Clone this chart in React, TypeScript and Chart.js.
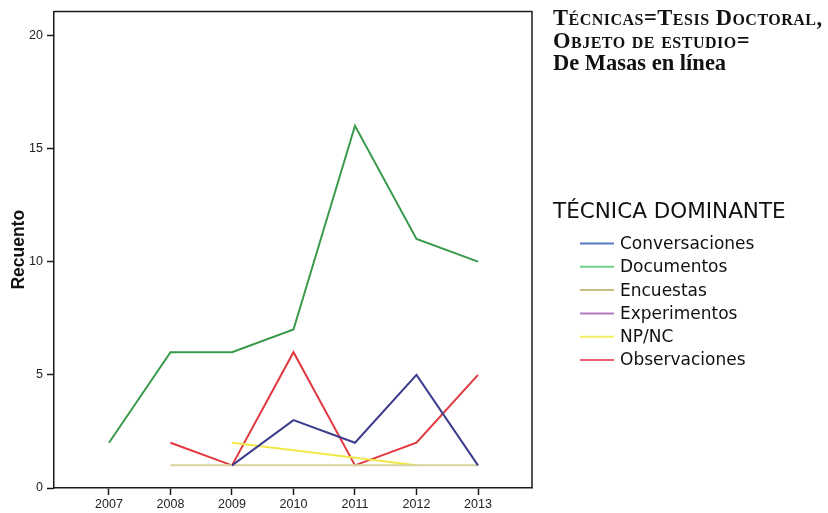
import React, { useEffect, useRef } from "react";
import { Chart, registerables } from "chart.js";

Chart.register(...registerables);

const years = [2007, 2008, 2009, 2010, 2011, 2012, 2013];
const yTicks = [0, 5, 10, 15, 20];

const conversaciones = [null, null, 1, 3, 2, 5, 1];
const documentos = [2, 6, 6, 7, 16, 11, 10];
const encuestas = [null, 1, 1, 1, 1, 1, 1];
const experimentos = [null, null, null, null, null, null, null];
const npnc = [null, null, 2, null, null, 1, null];
const observaciones = [null, 2, 1, 6, 1, 2, 5];

const seriesLabels = ["Conversaciones", "Documentos", "Encuestas", "Experimentos", "NP/NC", "Observaciones"];
const seriesValues = [conversaciones, documentos, encuestas, experimentos, npnc, observaciones];
const lineColors = ["#3d3d8e", "#3a9a4c", "#d9d39c", "#9a5cb0", "#f2e84a", "#e0383e"];
const legendColors = ["#5a78c8", "#6fd08a", "#c8bd80", "#b07ac0", "#f0f060", "#f06070"];

const legendTitle = "TÉCNICA DOMINANTE";
const yTitle = "Recuento";

const sans = "'Liberation Sans', Arial, sans-serif";
const dejavu = "'DejaVu Sans', sans-serif";

const framePlugin = {
  id: "frame",
  afterDraw(chart: any) {
    const { ctx, chartArea } = chart;
    ctx.save();
    ctx.strokeStyle = "#1a1a1a";
    ctx.lineWidth = 1.5;
    ctx.beginPath();
    ctx.moveTo(chartArea.left, chartArea.top);
    ctx.lineTo(chartArea.right, chartArea.top);
    ctx.lineTo(chartArea.right, chartArea.bottom);
    ctx.stroke();
    ctx.restore();
  },
};

const legendPlugin = {
  id: "customLegend",
  afterDraw(chart: any) {
    const { ctx } = chart;
    ctx.save();
    ctx.fillStyle = "#111";
    ctx.textBaseline = "alphabetic";
    ctx.font = `21.5px ${dejavu}`;
    ctx.fillText(legendTitle, 553, 218);
    ctx.font = `17px ${dejavu}`;
    ctx.textBaseline = "middle";
    chart.data.datasets.forEach((ds: any, i: number) => {
      const y = 243.5 + i * 23.3;
      ctx.strokeStyle = ds.legendColor;
      ctx.lineWidth = 2;
      ctx.beginPath();
      ctx.moveTo(580, y);
      ctx.lineTo(614, y);
      ctx.stroke();
      ctx.fillStyle = "#111";
      ctx.fillText(ds.label, 620, y + 1);
    });
    ctx.restore();
  },
};

export default function App() {
  const ref = useRef<HTMLCanvasElement>(null);

  useEffect(() => {
    const datasets = seriesLabels.map((label, i) => ({
      label,
      data: years
        .map((yr, j) => ({ x: yr, y: seriesValues[i][j] }))
        .filter((p) => p.y !== null),
      borderColor: lineColors[i],
      backgroundColor: lineColors[i],
      legendColor: legendColors[i],
      borderWidth: 2,
      pointRadius: 0,
      tension: 0,
      spanGaps: true,
      fill: false,
    }));

    const chart = new Chart(ref.current as HTMLCanvasElement, {
      type: "line",
      data: { datasets } as any,
      options: {
        animation: false,
        responsive: false,
        maintainAspectRatio: false,
        layout: { padding: { left: 0, top: 10, right: 296, bottom: 0 } },
        plugins: { legend: { display: false }, tooltip: { enabled: false } },
        scales: {
          x: {
            type: "linear",
            min: 2006.106,
            max: 2013.878,
            afterBuildTicks: (scale: any) => {
              scale.ticks = years.map((v) => ({ value: v }));
            },
            afterFit: (scale: any) => {
              scale.height = 25;
            },
            grid: {
              drawOnChartArea: false,
              drawTicks: true,
              tickLength: 7,
              tickColor: "#1a1a1a",
              tickWidth: 1.5,
            },
            border: { display: true, color: "#1a1a1a", width: 1.5 },
            ticks: {
              autoSkip: false,
              maxRotation: 0,
              padding: 2,
              color: "#222",
              font: { family: sans, size: 12.5 },
              callback: (v: any) => String(v),
            },
          },
          y: {
            type: "linear",
            min: 0,
            max: 21.05,
            afterBuildTicks: (scale: any) => {
              scale.ticks = yTicks.map((v) => ({ value: v }));
            },
            afterFit: (scale: any) => {
              scale.width = 54;
            },
            grid: {
              drawOnChartArea: false,
              drawTicks: true,
              tickLength: 7,
              tickColor: "#1a1a1a",
              tickWidth: 1.5,
            },
            border: { display: true, color: "#1a1a1a", width: 1.5 },
            ticks: {
              padding: 4,
              color: "#222",
              font: { family: sans, size: 12.5 },
            },
            title: {
              display: true,
              text: yTitle,
              color: "#111",
              font: { family: sans, size: 17.5, weight: "bold" },
              padding: { top: 9, bottom: 0 },
            },
          },
        },
      } as any,
      plugins: [framePlugin, legendPlugin],
    });
    return () => chart.destroy();
  }, []);

  return (
    <div style={{ position: "absolute", left: 0, top: 0, width: 828, height: 513, background: "#fff" }}>
      <canvas ref={ref} width={828} height={513} style={{ width: 828, height: 513, display: "block" }} />
      <div
        style={{
          position: "absolute",
          left: 553,
          top: 7,
          fontFamily: "'Liberation Serif', 'DejaVu Serif', serif",
          fontWeight: "bold",
          fontSize: 22.5,
          lineHeight: "22.5px",
          fontVariant: "small-caps",
          color: "#111",
          whiteSpace: "nowrap",
        }}
      >
        <div style={{ letterSpacing: "0.5px" }}>Técnicas=Tesis Doctoral,</div>
        <div style={{ letterSpacing: "0.5px" }}>Objeto de estudio=</div>
        <div style={{ fontVariant: "normal" }}>De Masas en línea</div>
      </div>
    </div>
  );
}
